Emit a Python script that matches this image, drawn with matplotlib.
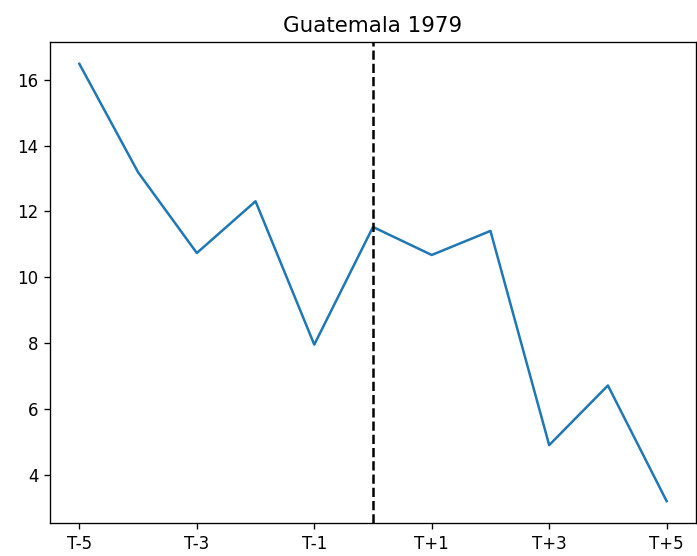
import matplotlib
matplotlib.use("Agg")
import matplotlib.pyplot as plt
import numpy as np

# relative years around the event
rel_years = [-5, -4, -3, -2, -1, 0, 1, 2, 3, 4, 5]
values = [16.48, 13.19, 10.74, 12.31, 7.96, 11.53, 10.68, 11.41, 4.91, 6.72, 3.21]
tick_pos = [-5, -3, -1, 1, 3, 5]
tick_labels = ["T-5", "T-3", "T-1", "T+1", "T+3", "T+5"]

dpi = 120
fig = plt.figure(figsize=(697/dpi, 556/dpi), dpi=dpi)
ax = fig.add_axes([50/697, 1 - 523/556, 646/697, 481/556])

ax.plot(rel_years, values, color="#1f77b4")
ax.axvline(0, color="black", linestyle="--")
ax.set_xticks(tick_pos)
ax.set_xticklabels(tick_labels)
ax.set_title("Guatemala 1979", fontsize=12.8)

fig.savefig("out.png", dpi=dpi)
plt.close()
